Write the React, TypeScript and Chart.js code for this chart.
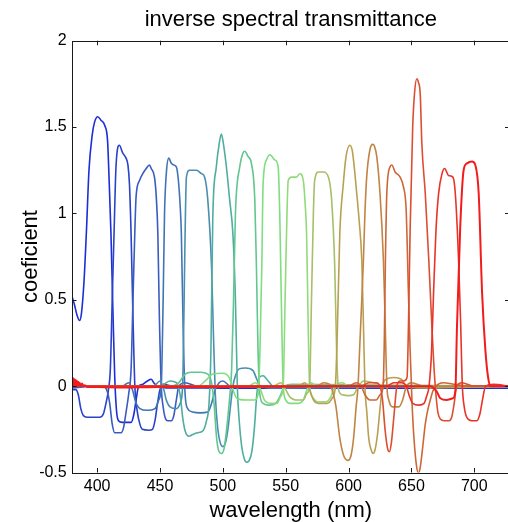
import React, { useEffect, useRef } from "react";
import { Chart, registerables } from "chart.js";

Chart.register(...registerables);

type Pt = [number, number];

const titleText = "inverse spectral transmittance";
const xLabel = "wavelength (nm)";
const yLabel = "coeficient";

const xTicks = [400, 450, 500, 550, 600, 650, 700];
const yTicks = [-0.5, 0, 0.5, 1, 1.5, 2];

const curve400: Pt[] = [[380,0.52],[382,0.47],[384,0.41],[386,0.38],[387.5,0.42],[389.5,0.6],[391.5,0.9],[393.5,1.25],[396,1.45],[398,1.53],[400.5,1.56],[403,1.54],[406,1.51],[408.3,1.42],[409.5,1.2],[411,0.88],[412.5,0.45],[414,0.05],[415.5,-0.15],[417,-0.2],[420,-0.21],[424,-0.21],[427,-0.21],[429,-0.17],[431,-0.08],[433,0.0],[436,0.01],[440,0.03],[443,0.04],[445,0.02],[448,0.0],[455,-0.01],[470,-0.01],[500,-0.012],[600,-0.012],[728,-0.012]];
const curve418: Pt[] = [[380,-0.02],[383,-0.02],[385,-0.05],[387,-0.13],[389,-0.17],[392,-0.18],[397,-0.18],[402,-0.18],[405,-0.16],[407,-0.1],[409,-0.02],[410.5,0.1],[412,0.5],[413.5,0.9],[415,1.27],[417.7,1.395],[420.3,1.35],[423,1.32],[424.5,1.28],[425.7,1.17],[427,0.88],[428.5,0.4],[430,0.0],[432,-0.15],[434,-0.22],[436,-0.25],[441,-0.255],[444,-0.25],[446,-0.2],[448,-0.1],[450,-0.02],[453,0.01],[460,0.0],[480,0.0],[728,0.0]];
const curve438: Pt[] = [[380,-0.01],[400,0.0],[405,0.0],[408,-0.03],[410,-0.1],[412,-0.22],[414,-0.27],[419,-0.27],[421,-0.24],[423,-0.15],[425,-0.05],[427,0.1],[428.5,0.5],[430,0.9],[431,1.1],[433.7,1.19],[436.3,1.23],[439,1.26],[441.6,1.28],[443,1.26],[445.6,1.21],[447,1.1],[448.3,0.88],[449.5,0.4],[451,0.0],[452.5,-0.12],[454,-0.18],[456,-0.2],[459,-0.2],[461,-0.17],[463,-0.08],[465,0.0],[470,0.02],[480,0.0],[728,0.0]];
const curve457: Pt[] = [[380,0.0],[420,0.0],[425,0.02],[428,-0.02],[431,-0.1],[434,-0.13],[440,-0.14],[446,-0.13],[449,-0.08],[451,0.0],[452.5,0.5],[453.6,1.0],[455,1.23],[457,1.32],[459,1.29],[461,1.28],[463,1.27],[464.5,1.2],[466,1.05],[467,0.88],[468.5,0.3],[470,-0.05],[472,-0.13],[476,-0.15],[482,-0.155],[488,-0.15],[491,-0.1],[494,-0.02],[497,0.02],[500,0.03],[506,0.0],[728,0.0]];
const curve475: Pt[] = [[380,0.0],[445,0.0],[450,0.03],[453,-0.02],[455,-0.08],[458,-0.12],[463,-0.13],[466,-0.1],[468,0.0],[469,0.4],[470,0.9],[471,1.21],[473.5,1.25],[479,1.25],[483,1.23],[485.5,1.21],[488,1.08],[491,0.69],[492.5,0.3],[494,-0.05],[496,-0.25],[498,-0.33],[500,-0.35],[502,-0.33],[504,-0.25],[506,-0.12],[508,0.0],[510,0.06],[513,0.1],[518,0.105],[524,0.09],[527,0.04],[530,0.0],[540,-0.01],[728,0.0]];
const curve500: Pt[] = [[380,0.0],[450,0.0],[458,0.03],[463,0.02],[466,-0.05],[468,-0.18],[470,-0.26],[473,-0.29],[476,-0.28],[480,-0.27],[484,-0.26],[487,-0.2],[489,-0.1],[490.5,0.2],[492,0.98],[494.8,1.27],[497,1.4],[498.8,1.46],[500.5,1.4],[502.8,1.27],[505.4,1.08],[508,0.88],[510,0.5],[511.5,0.0],[513,-0.2],[515,-0.35],[517,-0.42],[519,-0.44],[521,-0.43],[523,-0.38],[525,-0.25],[527,-0.05],[529,0.05],[532,0.06],[536,0.03],[540,0.0],[728,0.0]];
const curve520: Pt[] = [[380,0.0],[460,0.0],[465,0.02],[470,0.07],[475,0.08],[482,0.08],[488,0.07],[491,0.02],[493,-0.1],[495,-0.3],[497,-0.38],[499,-0.39],[501,-0.36],[503,-0.25],[505,-0.1],[507,0.1],[508.5,0.5],[510,1.0],[513.4,1.27],[516,1.35],[517.5,1.36],[520,1.33],[522.7,1.29],[525.4,1.08],[526.7,0.69],[528,0.2],[529.5,-0.05],[532,-0.1],[537,-0.11],[542,-0.1],[546,-0.05],[549,0.0],[555,0.01],[728,0.0]];
const curve540: Pt[] = [[380,0.0],[480,0.0],[486,0.03],[492,0.07],[500,0.075],[505,0.05],[508,-0.02],[511,-0.07],[518,-0.08],[525,-0.08],[528,-0.05],[529.5,0.2],[531,0.7],[532,1.17],[534.7,1.31],[537.3,1.34],[539,1.33],[541.3,1.31],[544,1.27],[545.3,0.98],[546.5,0.5],[548,0.0],[550,-0.08],[553,-0.1],[560,-0.1],[564,-0.08],[567,-0.02],[570,0.02],[575,0.0],[728,0.0]];
const curve557: Pt[] = [[380,0.0],[520,0.0],[526,0.02],[530,-0.02],[533,-0.08],[538,-0.1],[543,-0.1],[546,-0.06],[548,0.0],[549.5,0.5],[551,1.0],[552,1.19],[554.6,1.21],[558.6,1.21],[561.3,1.23],[564,1.19],[565.5,1.05],[566.6,0.88],[568,0.3],[569,0.0],[571,-0.06],[575,-0.09],[582,-0.09],[586,-0.06],[589,0.0],[595,0.02],[600,0.0],[728,0.0]];
const curve578: Pt[] = [[380,0.0],[540,0.0],[546,0.02],[550,-0.02],[553,-0.06],[558,-0.08],[564,-0.08],[567,-0.04],[569,0.0],[570.5,0.5],[572,1.0],[573,1.19],[576,1.24],[580,1.24],[584,1.21],[586.5,1.08],[589,0.69],[590.5,0.2],[592,-0.02],[595,-0.05],[600,-0.055],[604,-0.05],[607,-0.01],[612,0.03],[620,0.02],[628,0.0],[728,0.0]];
const curve600: Pt[] = [[380,0.0],[560,0.0],[565,0.02],[569,-0.02],[572,-0.08],[576,-0.1],[583,-0.1],[587,-0.07],[589.5,0.0],[591,0.3],[593,0.88],[595.8,1.17],[598,1.33],[601,1.395],[603,1.36],[606.5,1.115],[608.5,0.95],[610.5,0.73],[612,0.3],[613,0.0],[614.5,-0.15],[616,-0.3],[618,-0.37],[619.5,-0.39],[621,-0.37],[623,-0.28],[625,-0.13],[627,0.0],[630,0.04],[636,0.05],[642,0.04],[646,0.0],[655,-0.01],[728,0.0]];
const curve620: Pt[] = [[380,0.0],[575,0.0],[580,0.02],[585,0.01],[588,-0.05],[590,-0.12],[593,-0.3],[596,-0.4],[599.5,-0.43],[602,-0.4],[604,-0.3],[606,-0.12],[607.5,0.0],[609,0.25],[610.5,0.5],[611.8,0.73],[613,1.0],[614.4,1.21],[617,1.37],[619.2,1.4],[620.5,1.39],[622.4,1.33],[625,1.115],[627.7,0.73],[629,0.4],[630.5,0.0],[632,-0.08],[635,-0.12],[640,-0.12],[643,-0.08],[646,0.0],[650,0.02],[660,0.0],[728,0.0]];
const curve638: Pt[] = [[380,0.0],[600,0.0],[606,0.02],[610,0.0],[613,-0.05],[617,-0.08],[622,-0.08],[625,-0.05],[627.5,0.0],[628.5,0.3],[629.3,0.73],[630.4,1.115],[633,1.27],[634.4,1.28],[637,1.24],[641,1.21],[643.6,1.155],[645.8,1.02],[647.6,0.54],[649,0.2],[650.5,-0.1],[652,-0.3],[654,-0.46],[655.6,-0.505],[657,-0.47],[659,-0.35],[661,-0.22],[662.8,-0.145],[665,-0.08],[667,-0.03],[669.5,0.0],[675,0.02],[685,0.01],[695,0.0],[728,0.0]];
const curve656: Pt[] = [[380,0.0],[610,0.0],[616,0.02],[622,0.02],[625,0.0],[627,-0.08],[629,-0.25],[631,-0.36],[632.5,-0.38],[634,-0.33],[636,-0.18],[638.4,0.0],[641,0.03],[644,0.03],[646.5,0.05],[647.6,0.34],[649,0.92],[651,1.5],[652.5,1.7],[654.3,1.78],[655.5,1.76],[657,1.69],[658.3,1.4],[661,1.115],[663.8,0.73],[666.3,0.34],[668,0.1],[669.5,-0.05],[671,-0.15],[673,-0.19],[676,-0.2],[680,-0.2],[682,-0.18],[684,-0.1],[686,0.0],[690,0.02],[700,0.0],[728,0.0]];
const curve680: Pt[] = [[380,0.0],[630,0.0],[636,0.02],[642,0.02],[646,0.0],[648,-0.05],[651,-0.1],[656,-0.11],[660,-0.1],[662,-0.06],[664,0.0],[666,0.2],[667.6,0.54],[669.5,0.9],[671.6,1.115],[674.3,1.23],[676.4,1.26],[679.5,1.22],[683,1.21],[684.9,1.115],[687.5,0.73],[689,0.4],[690.5,0.0],[692,-0.12],[694,-0.18],[698,-0.2],[702,-0.2],[704.5,-0.16],[706.5,-0.08],[709,0.0],[715,0.01],[728,0.0]];
const curve700: Pt[] = [[380,0.03],[380.5,0.0],[381,0.045],[381.5,0.01],[382,0.04],[382.5,-0.005],[383,0.035],[383.5,0.01],[384,0.03],[384.5,0.0],[385,0.025],[385.5,0.005],[386,0.02],[387,0.0],[388,0.015],[389,0.0],[390,0.005],[392,-0.005],[400,-0.005],[420,-0.008],[450,-0.005],[500,-0.005],[550,-0.003],[600,0.0],[650,0.0],[665,0.0],[670,-0.03],[673,-0.07],[678,-0.08],[683,-0.07],[685,-0.02],[686.2,0.34],[688.8,0.92],[691.5,1.25],[694.2,1.29],[698.2,1.3],[700.8,1.28],[703.5,1.115],[706.2,0.54],[708.8,0.21],[711,0.05],[713,0.0],[720,0.0],[728,0.0]];

const curves: Pt[][] = [curve400, curve418, curve438, curve457, curve475, curve500, curve520, curve540, curve557, curve578, curve600, curve620, curve638, curve656, curve680, curve700];
const colors = ["#1c2ed6", "#2a42c8", "#3a5cc0", "#3f74b6", "#4a8eb0", "#4fae9e", "#62c690", "#7ede80", "#92da7c", "#a8be68", "#b8a052", "#c08444", "#cc6838", "#dc4e30", "#e83428", "#f21c1c"];

const FONT = '"Liberation Sans", Arial, sans-serif';

const framePlugin = {
  id: "frame",
  afterDraw(chart: any) {
    const { ctx, chartArea } = chart;
    const { left, right, top, bottom } = chartArea;
    const xs = chart.scales.x;
    const ys = chart.scales.y;
    ctx.save();
    ctx.strokeStyle = "#1a1a1a";
    ctx.lineWidth = 1;
    ctx.beginPath();
    ctx.rect(Math.round(left) + 0.5, Math.round(top) + 0.5, Math.round(right - left), Math.round(bottom - top));
    ctx.stroke();
    const tl = 4.5;
    ctx.beginPath();
    for (const v of xTicks) {
      const px = Math.round(xs.getPixelForValue(v)) + 0.5;
      ctx.moveTo(px, bottom);
      ctx.lineTo(px, bottom - tl);
      ctx.moveTo(px, top);
      ctx.lineTo(px, top + tl);
    }
    for (const v of yTicks) {
      const py = Math.round(ys.getPixelForValue(v)) + 0.5;
      ctx.moveTo(left, py);
      ctx.lineTo(left + tl, py);
      ctx.moveTo(right, py);
      ctx.lineTo(right - tl, py);
    }
    ctx.stroke();
    ctx.fillStyle = "#000";
    ctx.font = `22px ${FONT}`;
    ctx.textAlign = "center";
    ctx.textBaseline = "alphabetic";
    const cx = 290.8;
    ctx.fillText(titleText, cx, 26.3);
    ctx.fillText(xLabel, cx, 516.7);
    ctx.translate(36.7, 256.5);
    ctx.rotate(-Math.PI / 2);
    ctx.fillText(yLabel, 0, 0);
    ctx.restore();
  },
};

export default function App() {
  const ref = useRef<HTMLCanvasElement | null>(null);
  useEffect(() => {
    if (!ref.current) return;
    const chart = new Chart(ref.current, {
      type: "line",
      data: {
        datasets: curves.map((c, i) => ({
          label: `filter ${i + 1}`,
          data: c.map(([x, y]) => ({ x, y })),
          borderColor: colors[i],
          backgroundColor: colors[i],
          borderWidth: i === curves.length - 1 ? 2 : 1.6,
          pointRadius: 0,
          fill: false,
          cubicInterpolationMode: "monotone" as const,
          order: curves.length - i,
        })),
      },
      options: {
        animation: false,
        responsive: false,
        devicePixelRatio: 1,
        layout: { padding: { top: 40.7, right: 2.5, left: 0, bottom: 0 } },
        plugins: { legend: { display: false }, tooltip: { enabled: false }, title: { display: false } },
        scales: {
          x: {
            type: "linear",
            min: 380,
            max: 728,
            afterBuildTicks: (s: any) => { s.ticks = xTicks.map((v) => ({ value: v })); },
            afterFit: (s: any) => { s.height = 49.5; },
            grid: { display: false, drawTicks: false },
            border: { display: false },
            ticks: { padding: 4, color: "#000", font: { family: FONT, size: 16 }, maxRotation: 0, autoSkip: false, callback: (v: any) => String(v) },
          },
          y: {
            type: "linear",
            min: -0.5,
            max: 2,
            afterBuildTicks: (s: any) => { s.ticks = yTicks.map((v) => ({ value: v })); },
            afterFit: (s: any) => { s.width = 72; },
            grid: { display: false, drawTicks: false },
            border: { display: false },
            ticks: { padding: 5.3, color: "#000", font: { family: FONT, size: 16 }, callback: (v: any) => String(v) },
          },
        },
      },
      plugins: [framePlugin],
    });
    return () => chart.destroy();
  }, []);
  return (
    <div style={{ position: "absolute", left: 0, top: 0, width: 508, height: 522, overflow: "hidden", background: "#fff" }}>
      <canvas ref={ref} width={512} height={522} style={{ display: "block", width: 512, height: 522 }} />
    </div>
  );
}
